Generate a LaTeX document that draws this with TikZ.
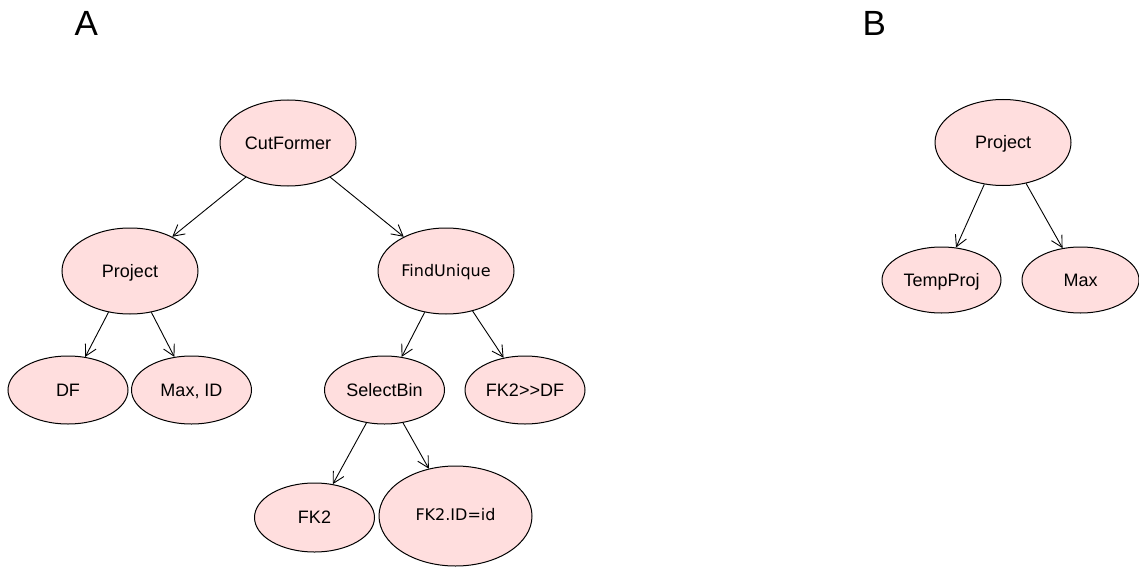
\documentclass[tikz,border=0pt]{standalone}
\usepackage{fontspec}
\setmainfont{Liberation Sans}
\newfontfamily\dvfont{DejaVu Sans}
\usetikzlibrary{shapes.geometric,arrows.meta}
\definecolor{nodefill}{HTML}{FFDEDE}
\begin{document}
\begin{tikzpicture}[x=1pt,y=-1pt,
  op/.style={ellipse,draw=black,line width=1pt,fill=nodefill,inner sep=0pt,
    font=\fontsize{18}{20}\selectfont,text height=12.9pt,text depth=0pt},
  opdv/.style={op,font=\dvfont\fontsize{16}{18}\selectfont,text height=11.7pt},
  big/.style={minimum width=136pt,minimum height=86pt},
  small/.style={minimum width=120pt,minimum height=68pt},
  link/.style={-{Straight Barb[length=11pt,width=12pt]},line width=0.9pt},
  panel/.style={font=\fontsize{35}{40}\selectfont,inner sep=0pt,anchor=base west}]
\useasboundingbox (0,0) rectangle (1139,567);

% panel letters
\node[panel] (labA) at (74.5,36) {A};
\node[panel] (labB) at (862.5,36) {B};

% tree A
\node[op,big] (cut) at (288,143) {CutFormer};
\node[op,big] (projA) at (130,271) {Project};
\node[opdv,big] (find) at (446,271) {FindUnique};
\node[op,small] (df) at (68,390) {DF};
\node[op,small] (maxid) at (191.5,390) {Max, ID};
\node[op,small] (sel) at (384.5,390) {SelectBin};
\node[op,small] (fkdf) at (525,390) {FK2>\kern0pt>DF};
\node[op,small,minimum height=69pt] (fk2) at (314.5,517.5) {FK2};
\node[opdv,minimum width=153pt,minimum height=100pt,text height=8pt] (fkid) at (455.5,516) {FK2.ID=id};

\draw[link] (cut) -- (projA);
\draw[link] (cut) -- (find);
\draw[link] (projA) -- (df);
\draw[link] (projA) -- (maxid);
\draw[link] (find) -- (sel);
\draw[link] (find) -- (fkdf);
\draw[link] (sel) -- (fk2);
\draw[link] (sel) -- (fkid);

% tree B
\node[op,big] (projB) at (1003,142.5) {Project};
\node[op,minimum width=119pt,minimum height=66pt] (temp) at (941.5,280) {TempProj};
\node[op,minimum width=117pt,minimum height=66pt] (maxB) at (1080.5,280) {Max};

\draw[link] (projB) -- (temp);
\draw[link] (projB) -- (maxB);
\end{tikzpicture}
\end{document}
